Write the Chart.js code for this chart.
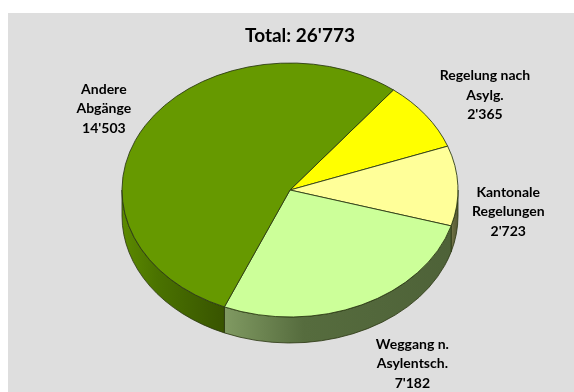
<!DOCTYPE html>
<html>
<head>
<meta charset="utf-8">
<script src="https://cdn.jsdelivr.net/npm/chart.js@4.4.0/dist/chart.umd.min.js"></script>
<style>
  html, body { margin: 0; padding: 0; background: #fff; }
  #panel { position: absolute; left: 8px; top: 13px; width: 566px; height: 379px; background: #dedede; }
</style>
</head>
<body>
<div id="panel"><canvas id="pie" width="566" height="379"></canvas></div>
<script>
// slices, clockwise from the top right
const categories = [['Regelung nach', 'Asylg.'], ['Kantonale', 'Regelungen'], ['Weggang n.', 'Asylentsch.'], ['Andere', 'Abgänge']]
const values = [2365, 2723, 7182, 14503]

const topColors = ['#ffff00', '#ffff99', '#ccff99', '#669900']
// side wall shading: left, middle, right
const sideColors = [
    ['#8a8a20', '#767620', '#6a6a20'],
    ['#7a7c4c', '#66683e', '#565834'],
    ['#809a62', '#566c3e', '#4e6238'],
    ['#5c8a00', '#4a7200', '#385400']
]

// ellipse of the top face
const cx = 282, cy = 177, rx = 168, ry = 127, depth = 26
const labelFont = 'bold 14px Lato, "Open Sans", sans-serif'
const lineH = 19.5

function fmt(n) {
    return String(n).replace(/\B(?=(\d{3})+(?!\d))/g, "'")
}

const total = values.reduce((a, b) => a + b, 0)

const pie3d = {
    id: 'pie3d',
    beforeDatasetsDraw(chart) {
        const c = chart.ctx
        const arcs = chart.getDatasetMeta(0).data
        arcs.forEach((arc, i) => {
            // only the front half of the rim shows
            for (const k of [-2 * Math.PI, 0, 2 * Math.PI]) {
                const s = Math.max(arc.startAngle, k)
                const e = Math.min(arc.endAngle, k + Math.PI)
                if (e <= s) continue
                c.save()
                c.beginPath()
                c.ellipse(cx, cy, rx, ry, 0, s, e)
                c.ellipse(cx, cy + depth, rx, ry, 0, e, s, true)
                c.closePath()
                const xl = cx + rx * Math.cos(e), xr = cx + rx * Math.cos(s)
                const g = c.createLinearGradient(xl, 0, xr, 0)
                g.addColorStop(0, sideColors[i][0])
                g.addColorStop(0.35, sideColors[i][1])
                g.addColorStop(1, sideColors[i][2])
                c.fillStyle = g
                c.fill()
                c.strokeStyle = '#2a3510'
                c.lineWidth = 0.8
                c.stroke()
                c.restore()
            }
        })
        // squash the flat pie into the top face
        const a = arcs[0]
        c.save()
        c.translate(cx, cy)
        c.scale(1, ry / rx)
        c.translate(-a.x, -a.y)
    },
    afterDatasetsDraw(chart) {
        const c = chart.ctx
        c.restore()
        const arcs = chart.getDatasetMeta(0).data
        c.save()
        c.font = labelFont
        c.fillStyle = '#000'
        c.textAlign = 'center'
        c.textBaseline = 'middle'
        arcs.forEach((arc, i) => {
            const mid = (arc.startAngle + arc.endAngle) / 2
            const cos = Math.cos(mid), sin = Math.sin(mid)
            const lines = [...categories[i], fmt(values[i])]
            const w = Math.max(...lines.map(l => c.measureText(l).width))
            const h = lines.length * lineH
            // anchor on the rim, the lower rim once past the equator
            const rimY = cy + ry * sin + (sin > -0.2 ? depth : 0)
            const x = cx + rx * cos + Math.sign(cos) * (w / 2 + 14)
            const y = rimY + sin * (h / 2 + 6) + 1
            lines.forEach((l, j) => c.fillText(l, x, y - h / 2 + lineH * (j + 0.5)))
        })
        c.restore()
    }
}

new Chart(document.getElementById('pie'), {
    type: 'pie',
    data: {
        labels: categories.map(l => l.join(' ')),
        datasets: [{
            data: values,
            backgroundColor: topColors,
            borderColor: '#2c3a14',
            borderWidth: 1,
            radius: rx,
            clip: false
        }]
    },
    options: {
        responsive: false,
        animation: false,
        events: [],
        rotation: 38,
        layout: { padding: { left: 18 } },
        plugins: {
            legend: { display: false },
            tooltip: { enabled: false },
            title: {
                display: true,
                text: 'Total: ' + fmt(total),
                color: '#000',
                font: { family: 'Lato', size: 19, weight: 'bold' },
                padding: { top: 11, bottom: 0 }
            }
        }
    },
    plugins: [pie3d]
})
</script>
</body>
</html>
